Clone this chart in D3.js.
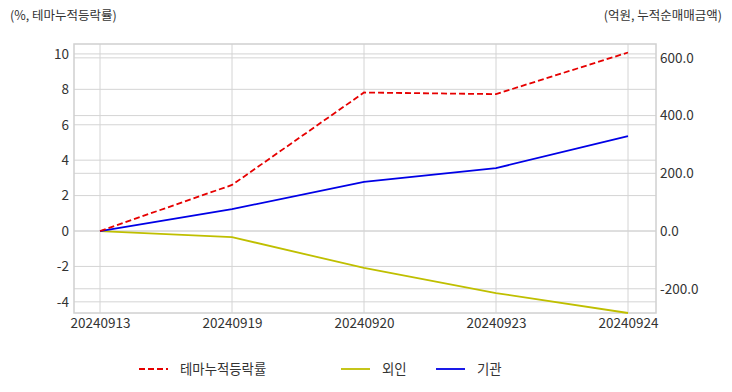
<!DOCTYPE html>
<html>
<head>
<meta charset="utf-8">
<script src="https://cdn.jsdelivr.net/npm/d3@7"></script>
<style>
  body { margin: 0; background: #fff; }
  text { font-family: "Noto Sans CJK KR", "Noto Sans", sans-serif; fill: #333; }
</style>
</head>
<body>
<script>
const width = 732;
const height = 392;

// data
const dates = ["20240913", "20240919", "20240920", "20240923", "20240924"];
const themeRate = [0, 2.6, 7.82, 7.73, 10.08];       // %, left axis
const foreign = [0, -21, -128, -215, -284];         // 억원, right axis
const institution = [0, 76, 170, 218, 329];         // 억원, right axis
const leftTicks = [-4, -2, 0, 2, 4, 6, 8, 10];
const rightTicks = [-200, 0, 200, 400, 600];

const plot = { left: 74, right: 656, top: 44, bottom: 313 };

const svg = d3.select("body").append("svg")
  .attr("width", width)
  .attr("height", height);

const x = d3.scalePoint()
  .domain(dates)
  .range([plot.left + 26, plot.right - 28]);

const yL = d3.scaleLinear()
  .domain([-4.63, 10.56])
  .range([plot.bottom, plot.top]);

const yR = d3.scaleLinear()
  .domain([-284, 648])
  .range([plot.bottom, plot.top]);

const grid = svg.append("g").attr("stroke", "#d4d4d4").attr("stroke-width", 1);

// vertical grid
grid.selectAll(".vx").data(dates).enter().append("line")
  .attr("x1", d => x(d)).attr("x2", d => x(d))
  .attr("y1", plot.top).attr("y2", plot.bottom);

// left axis grid
grid.selectAll(".gl").data(leftTicks).enter().append("line")
  .attr("x1", plot.left).attr("x2", plot.right)
  .attr("y1", d => yL(d)).attr("y2", d => yL(d));

// right axis grid
grid.selectAll(".gr").data(rightTicks).enter().append("line")
  .attr("x1", plot.left).attr("x2", plot.right)
  .attr("y1", d => yR(d)).attr("y2", d => yR(d));

// frame
svg.append("rect")
  .attr("x", plot.left).attr("y", plot.top)
  .attr("width", plot.right - plot.left)
  .attr("height", plot.bottom - plot.top)
  .attr("fill", "none")
  .attr("stroke", "#d0d0d0")
  .attr("stroke-width", 1.5);

// axes (plain hyphen for negatives, like the reference)
const hy = f => d => f(d).replace("\u2212", "-");

const axisL = svg.append("g")
  .attr("transform", `translate(${plot.left},0)`)
  .call(d3.axisLeft(yL).tickValues(leftTicks).tickSize(0).tickPadding(5)
    .tickFormat(hy(d3.format("d"))));

const axisR = svg.append("g")
  .attr("transform", `translate(${plot.right},0)`)
  .call(d3.axisRight(yR).tickValues(rightTicks).tickSize(0).tickPadding(4)
    .tickFormat(hy(d3.format(".1f"))));

const axisX = svg.append("g")
  .attr("transform", `translate(0,${plot.bottom})`)
  .call(d3.axisBottom(x).tickSize(0).tickPadding(5));

[axisL, axisR, axisX].forEach(a => {
  a.select(".domain").remove();
  a.selectAll("text")
    .attr("font-size", 13.5)
    .attr("font-family", "'Noto Sans CJK KR', sans-serif")
    .attr("fill", "#333");
});

// lines
const lineL = d3.line().x((d, i) => x(dates[i])).y(d => yL(d));
const lineR = d3.line().x((d, i) => x(dates[i])).y(d => yR(d));

svg.append("path")
  .datum(foreign)
  .attr("d", lineR)
  .attr("fill", "none")
  .attr("stroke", "#bfbf00")
  .attr("stroke-width", 1.8);

svg.append("path")
  .datum(institution)
  .attr("d", lineR)
  .attr("fill", "none")
  .attr("stroke", "#0000e6")
  .attr("stroke-width", 1.8);

svg.append("path")
  .datum(themeRate)
  .attr("d", lineL)
  .attr("fill", "none")
  .attr("stroke", "#e60000")
  .attr("stroke-width", 1.8)
  .attr("stroke-dasharray", "6,3");

// axis titles
svg.append("text")
  .attr("x", 10).attr("y", 20)
  .attr("font-size", 12.5)
  .text("(%, 테마누적등락률)");

svg.append("text")
  .attr("x", 722).attr("y", 20)
  .attr("text-anchor", "end")
  .attr("font-size", 12.5)
  .text("(억원, 누적순매매금액)");

// legend
const legendItems = [
  { name: "테마누적등락률", color: "#e60000", dash: "6,3", x: 139 },
  { name: "외인", color: "#bfbf00", dash: null, x: 341 },
  { name: "기관", color: "#0000e6", dash: null, x: 436 }
];

const legend = svg.append("g").selectAll("g").data(legendItems).enter().append("g")
  .attr("transform", d => `translate(${d.x},369)`);

legend.append("line")
  .attr("x1", 0).attr("x2", 29)
  .attr("stroke", d => d.color)
  .attr("stroke-width", 1.8)
  .attr("stroke-dasharray", d => d.dash);

legend.append("text")
  .attr("x", 41).attr("y", 0)
  .attr("dy", "0.35em")
  .attr("font-size", 13.4)
  .text(d => d.name);
</script>
</body>
</html>
